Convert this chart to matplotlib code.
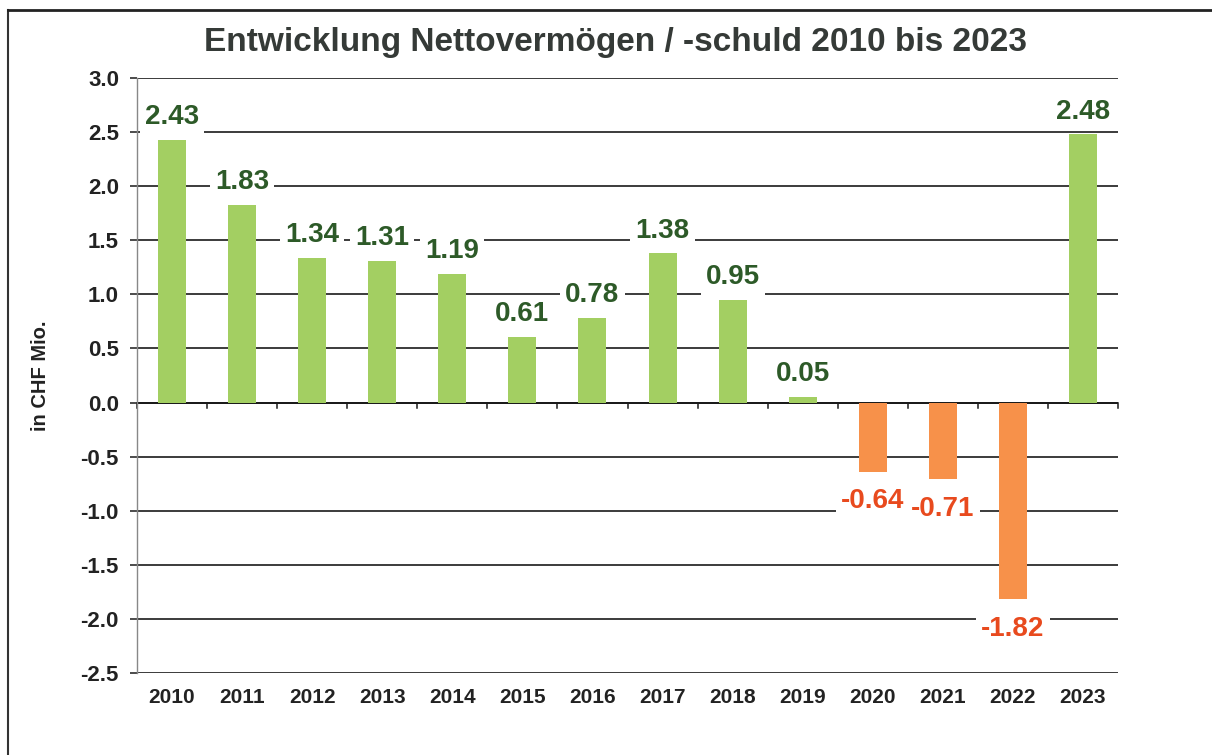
import matplotlib
matplotlib.use("Agg")
import matplotlib.pyplot as plt
from matplotlib.lines import Line2D
from matplotlib import font_manager

years = ["2010", "2011", "2012", "2013", "2014", "2015", "2016",
         "2017", "2018", "2019", "2020", "2021", "2022", "2023"]
values = [2.43, 1.83, 1.34, 1.31, 1.19, 0.61, 0.78,
          1.38, 0.95, 0.05, -0.64, -0.71, -1.82, 2.48]
yticks = [3.0, 2.5, 2.0, 1.5, 1.0, 0.5, 0.0, -0.5, -1.0, -1.5, -2.0, -2.5]

title = "Entwicklung Nettovermögen / -schuld 2010 bis 2023"
ylabel = "in CHF Mio."

avail = {f.name for f in font_manager.fontManager.ttflist}
base = "Liberation Sans" if "Liberation Sans" in avail else "DejaVu Sans"
narrow = "Liberation Sans Narrow" if "Liberation Sans Narrow" in avail else base

green = "#a3cf62"
orange = "#f7914a"
green_txt = "#2d5a28"
red_txt = "#e84a1e"

fig = plt.figure(figsize=(12.12, 7.55), dpi=100)
ax = fig.add_axes([137/1212, 1-673/755, (1118-137)/1212, (673-78)/755])

x = list(range(len(years)))
colors = [green if v >= 0 else orange for v in values]
ax.bar(x, values, width=0.4, color=colors, zorder=2)

ax.set_xlim(-0.5, len(years) - 0.5)
ax.set_ylim(-2.5, 3.0)
ax.set_yticks(yticks)
ax.set_yticklabels([f"{t:.1f}" for t in yticks], fontfamily=base,
                   fontweight="bold", fontsize=16, color="#222222")
ax.tick_params(axis="y", length=5, width=1.1, color="#1a1a1a", pad=8)
ax.grid(axis="y", color="#1a1a1a", linewidth=1.2, zorder=0)
ax.set_axisbelow(True)

# x-axis: labels at bottom, ticks at zero line
ax.set_xticks(x)
ax.set_xticklabels(years, fontfamily=base, fontweight="bold",
                   fontsize=15, color="#222222")
ax.tick_params(axis="x", length=0, pad=11)
for s in ["top", "right", "bottom"]:
    ax.spines[s].set_visible(False)
ax.spines["left"].set_color("#888888")
ax.spines["left"].set_linewidth(1.0)
ax.spines["left"].set_linestyle((0, (1, 1)))
ax.axhline(0, color="#1a1a1a", linewidth=1.4, zorder=1)
for b in [i + 0.5 for i in range(-1, len(years))]:
    ax.plot([b, b], [0, -0.05], color="#1a1a1a", linewidth=1.1,
            zorder=1, clip_on=False)

for i, v in enumerate(values):
    if v >= 0:
        ax.annotate(f"{v:.2f}", (i, v), xytext=(0, 7), textcoords="offset points",
                    ha="center", va="bottom", fontsize=20, fontweight="bold",
                    fontfamily=base, color=green_txt, zorder=3 + i,
                    bbox=dict(boxstyle="square,pad=0.18", fc="white", ec="none"))
    else:
        ax.annotate(f"{v:.2f}", (i, v), xytext=(0, -12), textcoords="offset points",
                    ha="center", va="top", fontsize=20, fontweight="bold",
                    fontfamily=base, color=red_txt, zorder=3 + i,
                    bbox=dict(boxstyle="square,pad=0.18", fc="white", ec="none"))

ax.set_ylabel(ylabel, fontfamily=base, fontweight="bold", fontsize=14.5,
              color="#222222", labelpad=22)

fig.text(615/1212, 1-43/755, title, ha="center", va="center",
         fontfamily=narrow, fontweight="bold", fontsize=24, color="#353a37")

# page frame
fig.add_artist(Line2D([8/1212, 8/1212], [0, 1-10/755], color="#333333",
                      linewidth=1.5, transform=fig.transFigure))
fig.add_artist(Line2D([8/1212, 1], [1-10/755, 1-10/755], color="#222222",
                      linewidth=2.0, transform=fig.transFigure))

fig.savefig("out.png", dpi=100)
